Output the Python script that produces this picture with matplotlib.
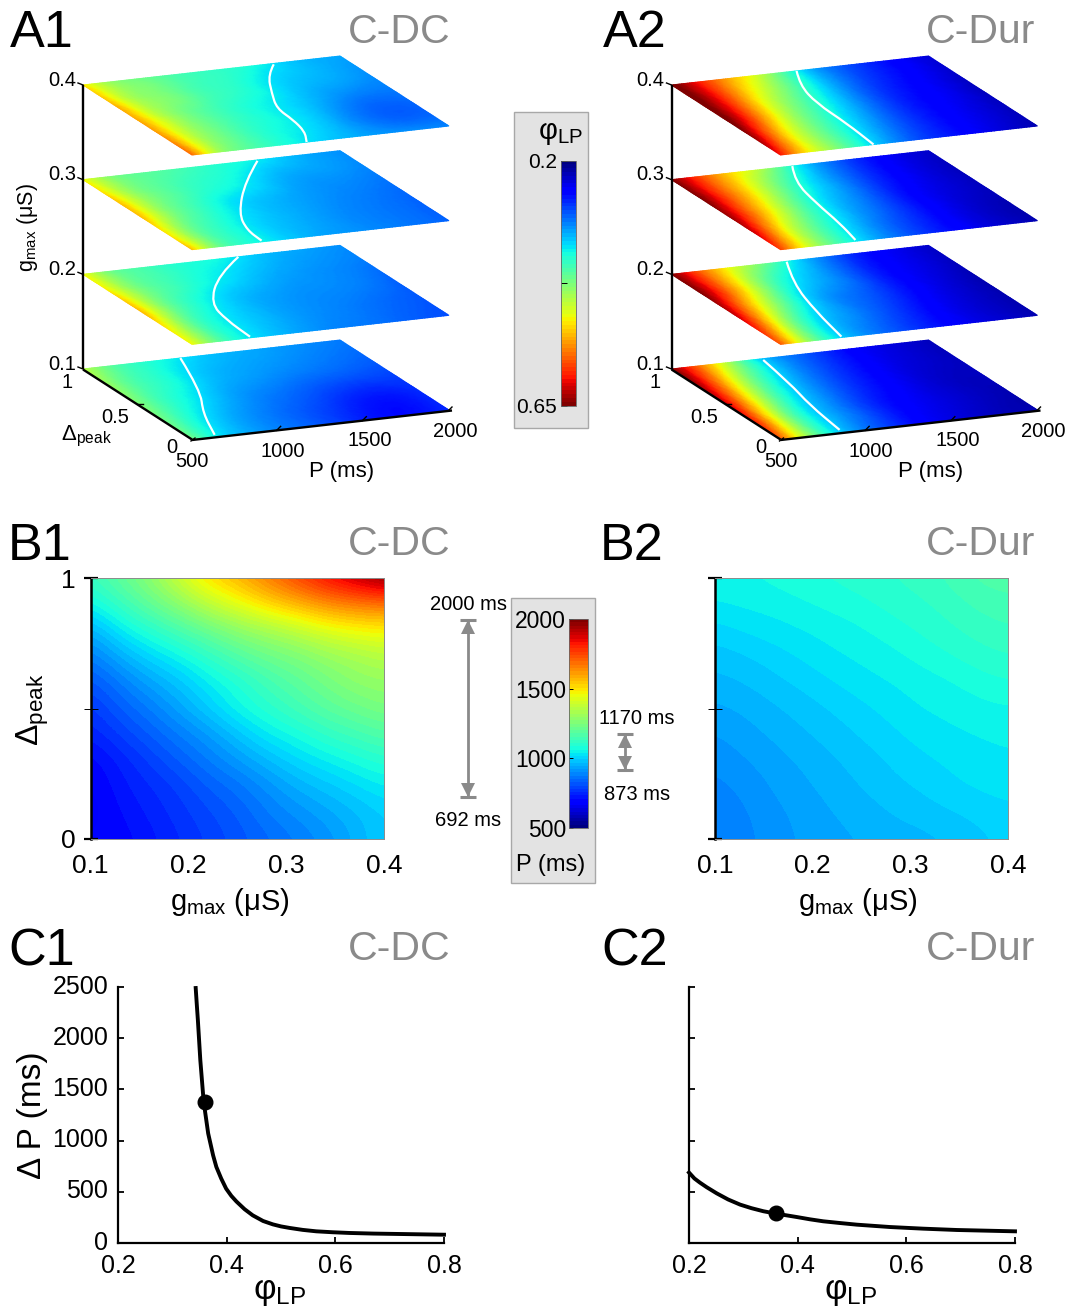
import numpy as np
import matplotlib
matplotlib.use('Agg')
import matplotlib.pyplot as plt
import matplotlib.tri as mtri
from matplotlib.patches import Rectangle, PathPatch
from matplotlib.path import Path
from matplotlib.colors import Normalize
from matplotlib.cm import ScalarMappable
from matplotlib.transforms import ScaledTranslation

plt.rcParams['font.family'] = ['Liberation Sans', 'DejaVu Sans']
plt.rcParams['mathtext.fontset'] = 'custom'
plt.rcParams['mathtext.rm'] = 'Liberation Sans'
plt.rcParams['mathtext.it'] = 'Liberation Sans:italic'
plt.rcParams['mathtext.default'] = 'regular'

# ---------- data ----------
P_GRID = [500, 650, 800, 1000, 1250, 1500, 1750, 2000]
DELTA_GRID = [1, 0.75, 0.5, 0.25, 0]
GMAX_LEVELS = [0.4, 0.3, 0.2, 0.1]

PHI_DC_04 = [[.50, .44, .42, .40, .385, .37, .34, .33],
             [.52, .45, .43, .40, .38, .35, .335, .32],
             [.53, .46, .42, .39, .365, .34, .315, .31],
             [.54, .46, .42, .385, .362, .33, .30, .30],
             [.56, .45, .41, .38, .35, .33, .32, .315]]
PHI_DC_03 = [[.49, .43, .41, .40, .38, .363, .335, .32],
             [.51, .44, .41, .385, .365, .335, .325, .315],
             [.52, .44, .40, .365, .34, .325, .315, .305],
             [.50, .42, .385, .355, .335, .32, .31, .30],
             [.52, .42, .38, .355, .33, .32, .31, .30]]
PHI_DC_02 = [[.49, .42, .40, .38, .37, .345, .33, .32],
             [.50, .43, .40, .375, .35, .33, .32, .31],
             [.52, .43, .385, .352, .33, .32, .315, .30],
             [.50, .415, .37, .345, .325, .315, .305, .295],
             [.49, .41, .365, .34, .32, .31, .30, .29]]
PHI_DC_01 = [[.46, .41, .385, .365, .34, .33, .32, .31],
             [.44, .40, .38, .35, .33, .32, .31, .30],
             [.43, .39, .365, .335, .315, .30, .29, .285],
             [.42, .375, .345, .32, .30, .28, .265, .275],
             [.42, .36, .335, .315, .295, .27, .26, .275]]

PHI_DUR_04 = [[.66, .60, .54, .47, .355, .295, .26, .235],
              [.66, .59, .51, .43, .345, .285, .255, .23],
              [.66, .57, .48, .40, .33, .275, .25, .225],
              [.64, .53, .45, .38, .315, .27, .245, .225],
              [.60, .50, .44, .365, .30, .265, .24, .22]]
PHI_DUR_03 = [[.65, .58, .52, .46, .355, .29, .25, .23],
              [.65, .57, .50, .41, .335, .28, .245, .225],
              [.64, .55, .47, .38, .32, .27, .24, .225],
              [.62, .51, .43, .36, .305, .265, .235, .22],
              [.58, .48, .41, .345, .295, .26, .235, .22]]
PHI_DUR_02 = [[.65, .57, .50, .43, .345, .285, .25, .23],
              [.65, .56, .47, .375, .325, .275, .245, .225],
              [.63, .52, .43, .345, .305, .27, .24, .22],
              [.60, .48, .385, .33, .295, .26, .235, .22],
              [.57, .45, .37, .32, .285, .255, .235, .22]]
PHI_DUR_01 = [[.65, .56, .47, .355, .30, .26, .24, .225],
              [.64, .53, .43, .345, .29, .255, .235, .225],
              [.62, .50, .40, .33, .28, .25, .23, .225],
              [.60, .47, .375, .32, .27, .245, .23, .22],
              [.57, .45, .365, .31, .265, .24, .225, .22]]

# iso-phase lines: (P in ms, Delta peak)
ISO_DC_04 = [(1607, .99), (1497, .87), (1373, .64), (1281, .45), (1274, .29), (1241, .13), (1169, 0)]
ISO_DC_03 = [(1512, .99), (1289, .754), (1013, .377), (925, .164), (915, .014)]
ISO_DC_02 = [(1407, 1), (1166, .806), (910, .473), (860, .248), (847, .013)]
ISO_DC_01 = [(1068, 1), (918, .58), (755, .30), (645, .02)]
ISO_DUR_04 = [(1230, 1), (1137, .824), (1079, .58), (1073, .295), (1043, 0)]
ISO_DUR_03 = [(1205, 1), (1097, .807), (1037, .513), (998, .238), (947, .015)]
ISO_DUR_02 = [(1169, .995), (1034, .724), (930, .347), (862, .01)]
ISO_DUR_01 = [(1025, .984), (977, .664), (908, .373), (864, .03)]

# period maps: rows Delta 1 -> 0, columns gmax 0.1 -> 0.4
B_GMAX = [.10, .13, .16, .19, .22, .25, .28, .31, .34, .37, .40]
B_DELTA = [1, .9, .8, .7, .6, .5, .4, .3, .2, .1, 0]
P_DC = [[1130, 1205, 1280, 1400, 1520, 1580, 1670, 1760, 1850, 1925, 2000],
        [1055, 1130, 1205, 1280, 1370, 1445, 1520, 1580, 1640, 1670, 1685],
        [950, 1040, 1100, 1160, 1220, 1280, 1325, 1370, 1430, 1460, 1475],
        [875, 950, 1010, 1055, 1115, 1175, 1220, 1250, 1295, 1325, 1355],
        [815, 875, 935, 980, 1040, 1085, 1145, 1190, 1235, 1280, 1295],
        [770, 830, 875, 935, 995, 1060, 1100, 1145, 1190, 1220, 1250],
        [740, 785, 830, 875, 920, 980, 1040, 1070, 1115, 1145, 1175],
        [695, 740, 785, 830, 875, 920, 965, 1010, 1040, 1070, 1100],
        [680, 725, 755, 785, 830, 860, 905, 950, 980, 1010, 1040],
        [672, 710, 740, 770, 800, 830, 875, 905, 935, 965, 995],
        [692, 695, 725, 755, 785, 815, 845, 875, 905, 950, 995]]
P_DUR = [[1050, 1060, 1070, 1080, 1090, 1100, 1110, 1120, 1140, 1165, 1170],
         [1040, 1045, 1050, 1060, 1070, 1080, 1095, 1105, 1120, 1140, 1150],
         [1005, 1020, 1030, 1040, 1050, 1060, 1075, 1090, 1105, 1120, 1130],
         [980, 990, 1005, 1020, 1035, 1045, 1055, 1070, 1085, 1100, 1110],
         [960, 970, 985, 1000, 1015, 1030, 1040, 1050, 1060, 1075, 1085],
         [940, 950, 965, 980, 995, 1010, 1025, 1040, 1045, 1055, 1060],
         [920, 935, 950, 965, 980, 995, 1010, 1025, 1035, 1040, 1045],
         [905, 920, 935, 950, 965, 980, 995, 1010, 1020, 1030, 1035],
         [890, 905, 925, 940, 955, 970, 985, 995, 1010, 1020, 1025],
         [878, 895, 915, 930, 945, 955, 970, 980, 990, 1000, 1010],
         [873, 890, 910, 925, 940, 945, 955, 960, 970, 985, 1000]]

# Delta P versus phase
C1_PHI = [.343, .345, .347, .3515, .3577, .366, .375, .381, .39, .399, .4086, .418, .433, .448, .467, .485, .50, .516, .54, .565, .595, .626, .67, .718, .80]
C1_DP = [2490, 2330, 2177, 1786, 1379, 1069, 857, 743, 629, 531, 460, 405, 330, 270, 215, 182, 162, 147, 128, 114, 105, 98, 92, 88, 81]
C1_DOT = (.36, 1380)
C2_PHI = [.20, .21, .22, .2325, .251, .272, .294, .315, .337, .36, .398, .423, .447, .478, .509, .57, .631, .693, .80]
C2_DP = [688, 630, 590, 545, 485, 425, 375, 340, 310, 287, 254, 231, 212, 195, 179, 156, 140, 127, 114]
C2_DOT = (.36, 297)

W, H = 1070, 1312
fig = plt.figure(figsize=(W / 100, H / 100), dpi=100, facecolor='white')
canvas = fig.add_axes([0, 0, 1, 1], zorder=0)
canvas.set_xlim(0, W)
canvas.set_ylim(H, 0)
canvas.axis('off')


def axes_px(l, t, r, b, **kw):
    return fig.add_axes([l / W, 1 - b / H, (r - l) / W, (b - t) / H], **kw)


def txt(x, y, s, size, color='black', ha='center', va='center', **kw):
    canvas.text(x, y, s, fontsize=size, color=color, ha=ha, va=va, **kw)


GREY = '#8a8a8a'

# ---------- A panels ----------
PHI_NORM = Normalize(.2, .65)
P_NORM = Normalize(500, 2000)


def make_proj(x0):
    def proj(p, d, g):
        p, d = np.asarray(p, float), np.asarray(d, float)
        x = x0 + (p - 500) / 1500 * 257 + (1 - d) * 109
        y = 85 - (p - 500) / 1500 * 29 + (1 - d) * 70 + (.4 - g) / .1 * 94.67
        return x, y
    return proj


def smooth_path(x, y):
    verts = [(x[0], y[0])]
    codes = [Path.MOVETO]
    for i in range(1, len(x) - 1):
        verts += [(x[i], y[i]), ((x[i] + x[i + 1]) / 2, (y[i] + y[i + 1]) / 2)]
        codes += [Path.CURVE3, Path.CURVE3]
    verts.append((x[-1], y[-1]))
    codes.append(Path.LINETO)
    return Path(verts, codes)


def panel_a(x0, grids, isos):
    proj = make_proj(x0)
    pp, dd = np.meshgrid(P_GRID, DELTA_GRID)
    u = (pp.ravel() - 500) / 1500
    v = dd.ravel().astype(float)
    base = mtri.Triangulation(u, v)
    refiner = mtri.UniformTriRefiner(base)
    for g, z, iso in zip(GMAX_LEVELS, grids, isos):
        fine, zf = refiner.refine_field(np.array(z, float).ravel(), subdiv=4)
        X, Y = proj(500 + 1500 * fine.x, fine.y, g)
        canvas.tripcolor(X, Y, fine.triangles, zf, shading='gouraud', cmap='jet', norm=PHI_NORM, zorder=1)
        iso = np.array(iso)
        ix, iy = proj(iso[:, 0], iso[:, 1], g)
        canvas.add_patch(PathPatch(smooth_path(ix, iy), fill=False, ec='white', lw=1.6, zorder=2))
    # axes of the stack
    ax_kw = dict(color='black', lw=1.7, solid_capstyle='butt', zorder=3)
    x, y = proj([500, 500], [1, 1], np.array([.1, .4]))
    canvas.plot(x, [85 + 284, 85], **ax_kw)
    x, y = proj([500, 500], [1, 0], .1)
    canvas.plot(x, y + 0.5, **ax_kw)
    x, y = proj([500, 2000], [0, 0], .1)
    canvas.plot(x + [0, 3], y + [1, 0.5], **ax_kw)
    tk = dict(color='black', lw=1.0, zorder=3)
    for g in GMAX_LEVELS:
        x, y = proj(500, 1, g)
        canvas.plot([x - 5, x], [y - 2, y], **tk)
        txt(x - 7, y - 5, f'{g:.1f}', 14.5, ha='right')
    for p in [500, 1000, 1500, 2000]:
        x, y = proj(p, 0, .1)
        canvas.plot([x - 1, x + 3], [y + 1, y - 3] if p != 500 else [y + 2, y - 1], **tk)
    x, y = proj(500, .5, .1)
    canvas.plot([x, x + 5], [y, y], **tk)
    for p, dx, dy in [(500, 0, 22), (1000, 5, 22), (1500, 6, 21), (2000, 6, 21)]:
        x, y = proj(p, 0, .1)
        txt(x + dx, y + dy, str(p), 14.5)
    for d, s, dx, dy in [(1, '1', -16, 13), (.5, '0.5', -22, 13), (0, '0', -20, 8)]:
        x, y = proj(500, d, .1)
        txt(x + dx, y + dy, s, 14.5)
    txt(x0 + 259, 471, 'P (ms)', 16)


panel_a(83, [PHI_DC_04, PHI_DC_03, PHI_DC_02, PHI_DC_01],
        [ISO_DC_04, ISO_DC_03, ISO_DC_02, ISO_DC_01])
panel_a(671.5, [PHI_DUR_04, PHI_DUR_03, PHI_DUR_02, PHI_DUR_01],
        [ISO_DUR_04, ISO_DUR_03, ISO_DUR_02, ISO_DUR_01])
txt(27, 228, r'$g_{max}$ (μS)', 15.5, rotation=90)
txt(86, 436, r'$Δ_{peak}$', 16)

# phase colour bar
canvas.add_patch(Rectangle((513.5, 112), 74.5, 316, fc='#e3e3e3', ec='#a8a8a8', lw=1, zorder=1))
cax = axes_px(561, 160.5, 575.5, 405.5, zorder=2)
cb = fig.colorbar(ScalarMappable(PHI_NORM, plt.get_cmap('jet', 64)), cax=cax, ticks=[.2, .425, .65])
cax.invert_yaxis()
cb.ax.yaxis.set_ticks_position('left')
cb.ax.set_yticklabels(['0.2', '', '0.65'], fontsize=15)
cb.ax.tick_params(axis='y', direction='in', length=4, width=.7, pad=3)
cb.outline.set_edgecolor('#666666')
cb.outline.set_linewidth(.6)
txt(561, 133, r'$φ_{LP}$', 21)

# ---------- B panels ----------
def panel_b(l, r, z, show_y):
    ax = axes_px(l, 578, r, 839, zorder=2)
    half_x = (B_GMAX[1] - B_GMAX[0]) / 2
    half_y = (B_DELTA[0] - B_DELTA[1]) / 2
    ax.imshow(np.array(z, float), cmap=plt.get_cmap('jet', 64), norm=P_NORM, aspect='auto',
              interpolation='bicubic', interpolation_stage='data', origin='upper',
              extent=[B_GMAX[0] - half_x, B_GMAX[-1] + half_x, B_DELTA[-1] - half_y, B_DELTA[0] + half_y])
    ax.set_xlim(.1, .4)
    ax.set_ylim(0, 1)
    ax.set_xticks([.1, .2, .3, .4])
    ax.set_xticklabels(['0.1', '0.2', '0.3', '0.4'], fontsize=19)
    ax.tick_params(axis='x', length=0, pad=11)
    ax.set_yticks([0, .5, 1])
    ax.set_yticklabels(['0', '', '1'] if show_y else ['', '', ''], fontsize=19)
    ax.tick_params(axis='y', direction='inout', length=10, width=1.6, pad=6)
    ax.yaxis.get_major_ticks()[1].tick1line.set_markeredgewidth(.7)
    for s in ['top', 'right', 'bottom']:
        ax.spines[s].set_color('#8c8c8c')
        ax.spines[s].set_linewidth(.7)
    ax.spines['left'].set_linewidth(1.8)
    return ax


panel_b(90.5, 384, P_DC, True)
panel_b(715, 1008, P_DUR, False)
txt(33, 710, r'$Δ_{peak}$', 23, rotation=90)
txt(230, 902, r'$g_{max}$ (μS)', 21)
txt(858, 902, r'$g_{max}$ (μS)', 21)

# period colour bar
canvas.add_patch(Rectangle((510.5, 598), 84.5, 285, fc='#e3e3e3', ec='#a8a8a8', lw=1, zorder=1))
cax2 = axes_px(569, 619, 588, 828, zorder=2)
cb2 = fig.colorbar(ScalarMappable(P_NORM, plt.get_cmap('jet', 64)), cax=cax2, ticks=[500, 1000, 1500, 2000])
cb2.ax.yaxis.set_ticks_position('left')
cb2.ax.tick_params(axis='y', direction='in', length=3, width=.7, pad=2, labelsize=16.5)
cb2.outline.set_edgecolor('#666666')
cb2.outline.set_linewidth(.6)
txt(550.5, 865, 'P (ms)', 17)


def range_arrow(x, y0, y1):
    canvas.plot([x, x], [y0, y1], color=GREY, lw=2.0, solid_capstyle='butt', zorder=3)
    canvas.plot([x], [y0 + 7], '^', color=GREY, ms=10.5, mew=0, zorder=3)
    canvas.plot([x], [y1 - 7], 'v', color=GREY, ms=10.5, mew=0, zorder=3)
    for y in (y0, y1):
        canvas.plot([x - 8, x + 8], [y, y], color=GREY, lw=2.2, solid_capstyle='butt', zorder=3)


range_arrow(467.7, 620, 796.5)
range_arrow(624.7, 733.5, 770)
txt(468, 604, '2000 ms', 14.5)
txt(468, 820, '692 ms', 14.5)
txt(637, 718, '1170 ms', 14.5)
txt(637, 795, '873 ms', 14.5)

# ---------- C panels ----------
def panel_c(l, r, xs, ys, dot, show_y):
    ax = axes_px(l, 987, r, 1243, zorder=2)
    ax.plot(xs, ys, color='black', lw=2.8, clip_on=False, solid_joinstyle='round')
    ax.plot(*dot, 'o', color='black', ms=10.5, clip_on=False)
    ax.set_xlim(.2, .8)
    ax.set_ylim(0, 2500)
    ax.set_xticks([.2, .4, .6, .8])
    ax.set_xticklabels(['0.2', '0.4', '0.6', '0.8'], fontsize=18)
    ax.set_yticks([0, 500, 1000, 1500, 2000, 2500])
    ax.set_yticklabels(['0', '500', '1000', '1500', '2000', '2500'] if show_y else [''] * 6, fontsize=18)
    ax.tick_params(direction='in', length=4, width=1.3, pad=8)
    ax.tick_params(axis='y', pad=7)
    up = ScaledTranslation(0, 3 / 100, fig.dpi_scale_trans)
    for lab in ax.get_yticklabels():
        lab.set_transform(lab.get_transform() + up)
    ax.spines[['top', 'right']].set_visible(False)
    ax.spines[['left', 'bottom']].set_linewidth(1.6)
    ax.patch.set_alpha(0)
    return ax


panel_c(118, 444, C1_PHI, C1_DP, C1_DOT, True)
panel_c(689, 1015, C2_PHI, C2_DP, C2_DOT, False)
txt(32, 1115, 'Δ P (ms)', 24, rotation=90)
txt(280, 1291, r'$φ_{LP}$', 25)
txt(851, 1291, r'$φ_{LP}$', 25)

# ---------- panel titles ----------
for s, x, y in [('A1', 10, 47), ('A2', 603, 47), ('B1', 8, 560), ('B2', 600, 560), ('C1', 8, 965), ('C2', 601, 965)]:
    txt(x, y, s, 37.5, ha='left', va='baseline')
for s, x, y in [('C-DC', 451, 43), ('C-Dur', 1035, 43), ('C-DC', 451, 555), ('C-Dur', 1035, 555),
                ('C-DC', 451, 960), ('C-Dur', 1035, 960)]:
    txt(x, y, s, 29.5, color=GREY, ha='right', va='baseline')

fig.savefig('out.png', dpi=100)
